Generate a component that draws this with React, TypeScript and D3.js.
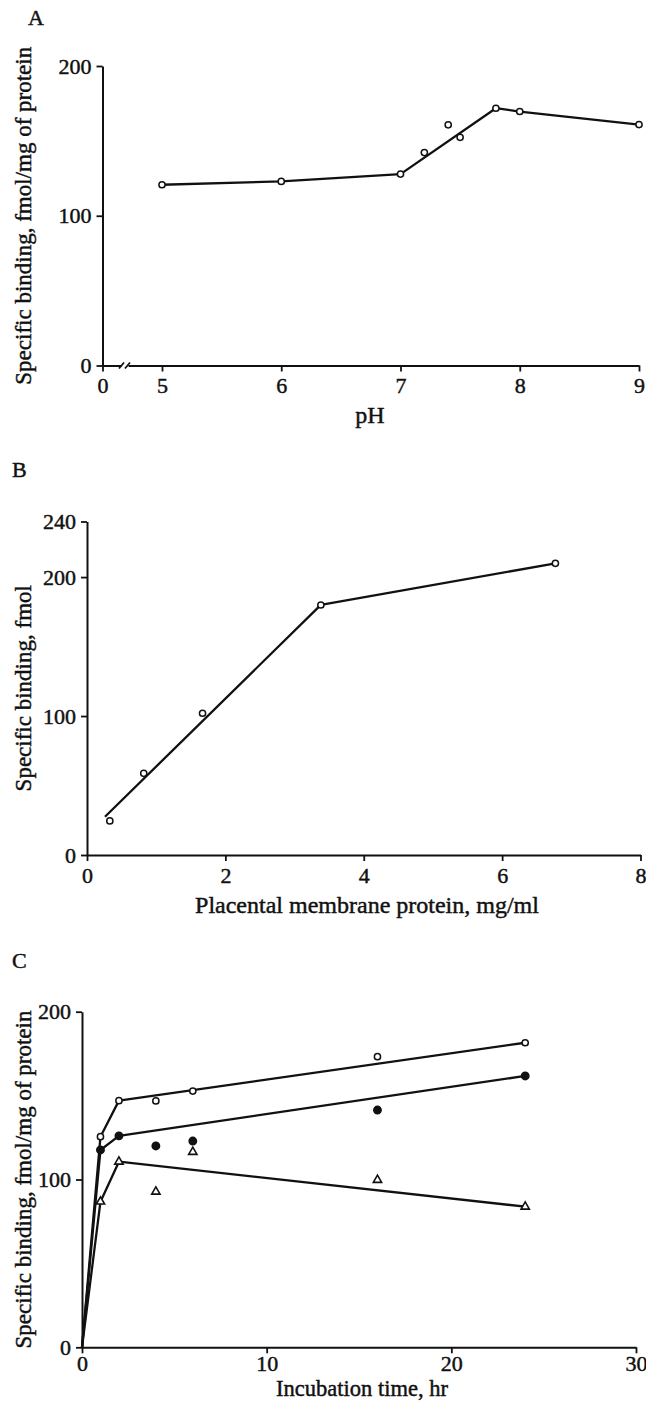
import React, { useEffect, useRef } from 'react';
import * as d3 from 'd3';

// Panel A: pH dependence
const phX = [5, 6, 7, 7.2, 7.4, 7.5, 7.8, 8, 9];
const phY = [120.7, 122.9, 127.8, 142.2, 160.7, 152.4, 171.8, 169.6, 160.9];
const phLineX = [5, 6, 7, 7.8, 8, 9];
const phLineY = [120.7, 122.9, 127.8, 171.8, 169.6, 160.9];
const phTicksX = [0, 5, 6, 7, 8, 9];
const phTicksY = [0, 100, 200];

// Panel B: membrane protein
const protX = [0.33, 0.82, 1.67, 3.38, 6.77];
const protY = [24.5, 58.8, 102, 179.9, 209.9];
const protLineX = [0.26, 3.38, 6.77];
const protLineY = [27.5, 180, 209.9];
const protTicksX = [0, 2, 4, 6, 8];
const protTicksY = [0, 100, 200, 240];

// Panel C: incubation time
const timeX = [1, 2, 4, 6, 16, 24];
const openY = [125.5, 147, 146.8, 152.7, 173.2, 181.5];
const filledY = [117.6, 126, 120, 122.9, 141.4, 161.7];
const triY = [86.8, 110.6, 92.7, 116.4, 99.7, 83.8];
const timeLineX = [0, 1, 2, 24];
const openLineY = [0, 125.5, 147, 181.5];
const filledLineY = [0, 117.6, 126, 161.7];
const triLineY = [0, 86.8, 110.6, 83.8];
const timeTicksX = [0, 10, 20, 30];
const timeTicksY = [0, 100, 200];

const FONT = '"Liberation Serif", "Times New Roman", serif';
const INK = '#111';

const zip = (xs, ys) => xs.map((x, i) => ({ x, y: ys[i] }));

// scanned type is heavier than the plain font, thicken it a little
const ink = sel => sel.attr('fill', INK).attr('stroke', INK).attr('stroke-width', 0.45);

function drawAxes(g, x, y, ticksX, ticksY, padX = 6) {
  const ax = g.append('g').attr('transform', `translate(0,${y.range()[0]})`)
    .call(d3.axisBottom(x).tickValues(ticksX).tickSize(6).tickPadding(padX).tickSizeOuter(0));
  const ay = g.append('g').attr('transform', `translate(${x.range()[0]},0)`)
    .call(d3.axisLeft(y).tickValues(ticksY).tickSize(6).tickPadding(5).tickSizeOuter(0));
  [ax, ay].forEach(a => {
    a.attr('font-family', FONT).attr('font-size', 22);
    a.selectAll('path.domain').attr('stroke', INK).attr('stroke-width', 2);
    a.selectAll('line').attr('stroke', INK).attr('stroke-width', 1.8);
    ink(a.selectAll('text'));
  });
  return { ax, ay };
}

function drawLabels(g, x, y, letter, letterPos, xLabel, xLabelPos, yLabel, xLabelSize = 24) {
  const [y0, y1] = y.range();
  ink(g.append('text').attr('x', letterPos[0]).attr('y', letterPos[1])
    .attr('font-family', FONT).attr('font-size', 22).text(letter));
  ink(g.append('text').attr('x', xLabelPos[0]).attr('y', y0 + xLabelPos[1])
    .attr('text-anchor', 'middle').attr('font-family', FONT).attr('font-size', xLabelSize)
    .text(xLabel));
  ink(g.append('text').attr('transform', `translate(31,${(y0 + y1) / 2}) rotate(-90)`)
    .attr('text-anchor', 'middle').attr('font-family', FONT).attr('font-size', 23)
    .text(yLabel));
}

function drawLine(g, x, y, pts) {
  g.append('path').datum(pts)
    .attr('d', d3.line().x(d => x(d.x)).y(d => y(d.y)))
    .attr('fill', 'none').attr('stroke', INK).attr('stroke-width', 2.3).attr('stroke-linejoin', 'round');
}

function drawMarkers(g, x, y, pts, kind) {
  if (kind === 'tri') {
    g.selectAll(null).data(pts).enter().append('path')
      .attr('d', d3.symbol(d3.symbolTriangle, 30)())
      .attr('transform', d => `translate(${x(d.x)},${y(d.y)})`)
      .attr('fill', '#fff').attr('stroke', INK).attr('stroke-width', 1.6);
    return;
  }
  g.selectAll(null).data(pts).enter().append('circle')
    .attr('cx', d => x(d.x)).attr('cy', d => y(d.y))
    .attr('r', kind === 'filled' ? 3.7 : 3.1)
    .attr('fill', kind === 'filled' ? INK : '#fff')
    .attr('stroke', INK).attr('stroke-width', 1.5);
}

export default function App() {
  const svgRef = useRef(null);

  useEffect(() => {
    document.body.style.margin = '0';
    const svg = d3.select(svgRef.current);
    svg.selectAll('*').remove();

    // --- A ---
    const gA = svg.append('g');
    const xA = d3.scaleLinear().domain([0, 5, 9]).range([102.5, 162, 639]);
    const yA = d3.scaleLinear().domain([0, 200]).range([365.5, 66]);
    const { ax } = drawAxes(gA, xA, yA, phTicksX, phTicksY);
    // axis break
    const bx = xA(0) + 20;
    ax.append('rect').attr('x', bx - 1).attr('y', -4).attr('width', 7).attr('height', 8).attr('fill', '#fff');
    [bx - 1, bx + 5].forEach(px => ax.append('line')
      .attr('x1', px - 2.5).attr('y1', 3).attr('x2', px + 2.5).attr('y2', -3)
      .attr('stroke', INK).attr('stroke-width', 1.8));
    drawLabels(gA, xA, yA, 'A', [28, 25], 'pH', [370, 57.5], 'Specific binding, fmol/mg of protein');
    drawLine(gA, xA, yA, zip(phLineX, phLineY));
    drawMarkers(gA, xA, yA, zip(phX, phY), 'open');

    // --- B ---
    const gB = svg.append('g');
    const xB = d3.scaleLinear().domain([0, 8]).range([87, 640.5]);
    const yB = d3.scaleLinear().domain([0, 240]).range([855, 521.5]);
    drawAxes(gB, xB, yB, protTicksX, protTicksY);
    drawLabels(gB, xB, yB, 'B', [12, 477], 'Placental membrane protein, mg/ml', [367, 58], 'Specific binding, fmol');
    drawLine(gB, xB, yB, zip(protLineX, protLineY));
    drawMarkers(gB, xB, yB, zip(protX, protY), 'open');

    // --- C ---
    const gC = svg.append('g');
    const xC = d3.scaleLinear().domain([0, 30]).range([82, 636]);
    const yC = d3.scaleLinear().domain([0, 200]).range([1347.3, 1011.7]);
    drawAxes(gC, xC, yC, timeTicksX, timeTicksY, 2);
    drawLabels(gC, xC, yC, 'C', [12, 968], 'Incubation time, hr', [362, 48.7], 'Specific binding, fmol/mg of protein', 22.5);
    drawLine(gC, xC, yC, zip(timeLineX, openLineY));
    drawLine(gC, xC, yC, zip(timeLineX, filledLineY));
    drawLine(gC, xC, yC, zip(timeLineX, triLineY));
    drawMarkers(gC, xC, yC, zip(timeX, openY), 'open');
    drawMarkers(gC, xC, yC, zip(timeX, filledY), 'filled');
    drawMarkers(gC, xC, yC, zip(timeX, triY), 'tri');
  }, []);

  return (
    <svg ref={svgRef} width={646} height={1401} style={{ display: 'block', background: '#fff' }}></svg>
  );
}
